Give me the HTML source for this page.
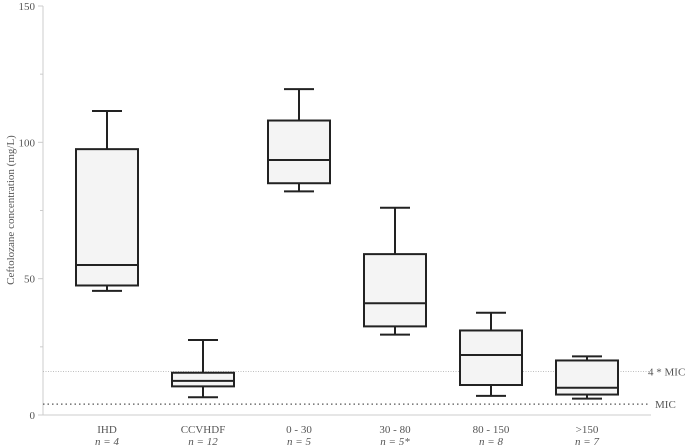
<!DOCTYPE html>
<html><head><meta charset="utf-8"><style>body{margin:0;background:#fff}svg{display:block;font-family:"Liberation Serif",serif}</style></head>
<body>
<svg id="c" width="685" height="448"></svg>
<script>
const categories=["IHD","CCVHDF","0 - 30","30 - 80","80 - 150",">150"];
const nLabels=["n = 4","n = 12","n = 5","n = 5*","n = 8","n = 7"];
const mins=[45.5,6.5,82,29.5,7,6];
const q1s=[47.5,10.5,85,32.5,11,7.5];
const medians=[55,12.5,93.5,41,22,10];
const q3s=[97.5,15.5,108,59,31,20];
const maxs=[111.5,27.5,119.5,76,37.5,21.5];
const yTicks=[0,50,100,150];
const yMinor=[25,75,125];
const refLines=[16,4];
const refLabels=["4 * MIC","MIC"];
const NS="http://www.w3.org/2000/svg",svg=document.getElementById('c');
const y=v=>415-v*409/150, x=i=>107+i*96;
function el(t,a,p){const e=document.createElementNS(NS,t);for(const k in a)e.setAttribute(k,a[k]);(p||svg).appendChild(e);return e;}
const ax=el('g',{});


el('line',{x1:43,y1:y(0),x2:43,y2:y(150),stroke:'#ccc'},ax);
el('line',{x1:43,y1:y(0),x2:651,y2:y(0),stroke:'#ccc'},ax);
yTicks.forEach(v=>{el('line',{x1:38,x2:43,y1:y(v),y2:y(v),stroke:'#ccc'},ax);const t=el('text',{x:35,y:y(v)+4,'text-anchor':'end','font-size':11,fill:'#555'},ax);t.textContent=v;});
yMinor.forEach(v=>el('line',{x1:40,x2:43,y1:y(v),y2:y(v),stroke:'#ccc'},ax));
const yt=el('text',{x:14,y:210,'text-anchor':'middle','font-size':11,fill:'#555',transform:'rotate(-90 14 210)'});
yt.textContent='Ceftolozane concentration (mg/L)';


refLines.forEach((v,i)=>{const l=el('line',{x1:43,x2:650,y1:y(v),y2:y(v),stroke:i?'#555':'#aaa','stroke-dasharray':i?'1.5 3':'1 1.5','stroke-width':i?1.2:0.8});const t=el('text',{x:i?655:648,y:y(v)+4,'font-size':11,fill:'#555'});t.textContent=refLabels[i];});
categories.forEach((c,i)=>{const g=el('g',{stroke:'#222','stroke-width':2,fill:'none'});


const cx=x(i);
el('line',{x1:cx,x2:cx,y1:y(maxs[i]),y2:y(q3s[i])},g);
el('line',{x1:cx,x2:cx,y1:y(q1s[i]),y2:y(mins[i])},g);
el('line',{x1:cx-15,x2:cx+15,y1:y(maxs[i]),y2:y(maxs[i])},g);
el('line',{x1:cx-15,x2:cx+15,y1:y(mins[i]),y2:y(mins[i])},g);
el('rect',{x:cx-31,width:62,y:y(q3s[i]),height:y(q1s[i])-y(q3s[i]),fill:'#f4f4f4'},g);
el('line',{x1:cx-31,x2:cx+31,y1:y(medians[i]),y2:y(medians[i])},g);
const t=el('text',{x:cx,y:433,'text-anchor':'middle','font-size':11,fill:'#555'});t.textContent=c;
const n=el('text',{x:cx,y:445,'text-anchor':'middle','font-size':11,fill:'#555','font-style':'italic'});n.textContent=nLabels[i];});
</script>
</body></html>
